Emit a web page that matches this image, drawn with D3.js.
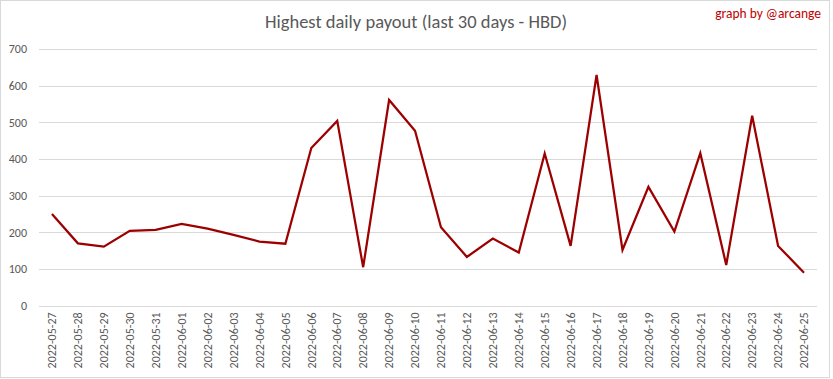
<!DOCTYPE html>
<html><head><meta charset="utf-8">
<script src="https://cdn.jsdelivr.net/npm/d3@7"></script>
<style>html,body{margin:0;padding:0;background:#fff;}svg{display:block;}</style>
</head><body>
<script>
const dates = ["2022-05-27","2022-05-28","2022-05-29","2022-05-30","2022-05-31","2022-06-01","2022-06-02","2022-06-03","2022-06-04","2022-06-05","2022-06-06","2022-06-07","2022-06-08","2022-06-09","2022-06-10","2022-06-11","2022-06-12","2022-06-13","2022-06-14","2022-06-15","2022-06-16","2022-06-17","2022-06-18","2022-06-19","2022-06-20","2022-06-21","2022-06-22","2022-06-23","2022-06-24","2022-06-25"];
const payout = [250,170,161,204,207,223,210,193,175,169,430,504,105,561,477,214,133,183,145,415,163,629,152,324,202,416,111,518,163,90];
const yTicks = [0,100,200,300,400,500,600,700];
const title = "Highest daily payout (last 30 days - HBD)";
const credit = "graph by @arcange";

const W = 833, H = 379;
const svg = d3.select("body").append("svg").attr("width", W).attr("height", H);
const font = "Carlito, 'Liberation Sans Narrow', 'DejaVu Sans Condensed', sans-serif";

svg.append("rect").attr("x",0.5).attr("y",0.5).attr("width",W-4).attr("height",H-2)
  .attr("fill","#fff").attr("stroke","#d9d9d9");

const x = d3.scaleBand().domain(dates).range([39, 817]);
const y = d3.scaleLinear().domain([0,700]).range([305.7, 49]);

const grid = svg.append("g");
yTicks.forEach(t => {
  grid.append("line").attr("x1",39).attr("x2",817).attr("y1",Math.round(y(t))+0.5).attr("y2",Math.round(y(t))+0.5)
    .attr("stroke","#d9d9d9").attr("stroke-width",1);
});

const yAxis = svg.append("g").attr("transform","translate(27,0)")
  .call(d3.axisLeft(y).tickValues(yTicks).tickSize(0).tickPadding(0));
yAxis.select(".domain").remove();
yAxis.selectAll("text").attr("font-family",font).attr("font-size","12px").attr("fill","#595959");

const xAxis = svg.append("g").attr("transform","translate(0,310)")
  .call(d3.axisBottom(x).tickSize(0).tickPadding(0));
xAxis.select(".domain").remove();
xAxis.selectAll("text").attr("font-family",font).attr("font-size","12px").attr("fill","#595959")
  .attr("transform","rotate(-90)").attr("text-anchor","end").attr("dx","-0.2em").attr("dy","0.35em").attr("y",0).attr("x",0);

const line = d3.line().x((d,i)=>x(dates[i])+x.bandwidth()/2).y(d=>y(d));
svg.append("path").datum(payout).attr("d",line).attr("fill","none")
  .attr("stroke","#9c0000").attr("stroke-width",2.25).attr("stroke-linejoin","miter");

svg.append("text").attr("x",416).attr("y",28).attr("text-anchor","middle")
  .attr("font-family",font).attr("font-size","18.5px").attr("fill","#595959").text(title);
svg.append("text").attr("x",821).attr("y",17.5).attr("text-anchor","end")
  .attr("font-family",font).attr("font-size","13.5px").attr("fill","#c00000").text(credit);
</script>
</body></html>
